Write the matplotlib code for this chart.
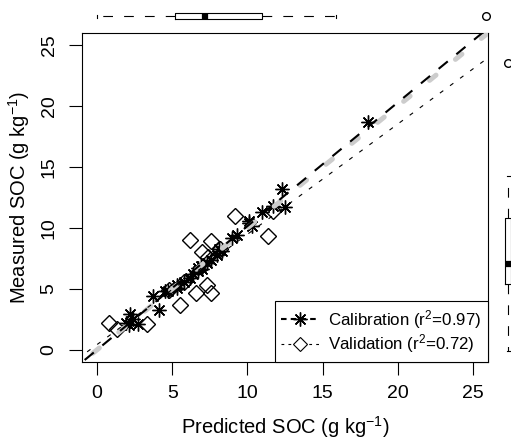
import matplotlib
matplotlib.use("Agg")
from matplotlib import pyplot as plt
from matplotlib.lines import Line2D
import numpy as np

plt.rcParams['font.family'] = ['Liberation Sans', 'DejaVu Sans']
plt.rcParams['mathtext.fontset'] = 'custom'
plt.rcParams['mathtext.rm'] = 'Liberation Sans'
plt.rcParams['mathtext.it'] = 'Liberation Sans'
plt.rcParams['lines.scale_dashes'] = False

# calibration set (predicted, measured)
cal_pred = [1.9, 2.1, 2.2, 2.7, 2.4, 3.7, 4.1, 4.5, 4.7, 5.3, 5.3, 5.8, 6.2, 6.4, 6.7,
            6.7, 6.9, 7.0, 7.3, 7.6, 8.0, 8.3, 8.1, 9.3, 9.0, 10.1, 10.1, 10.3, 11.0,
            11.7, 12.3, 12.5, 18.0]
cal_meas = [2.2, 2.0, 2.95, 2.1, 2.5, 4.4, 3.3, 4.8, 4.85, 5.1, 5.3, 5.6, 5.9, 6.2, 6.5,
            6.7, 6.9, 6.6, 7.1, 7.4, 7.8, 8.1, 8.3, 9.4, 9.2, 10.4, 10.6, 10.2, 11.3,
            11.8, 13.2, 11.7, 18.7]
# validation set
val_pred = [0.8, 1.3, 3.3, 5.5, 6.6, 7.6, 7.3, 6.2, 7.6, 7.0, 7.4, 9.2, 11.4, 11.7, 5.8, 8.2, 4.8]
val_meas = [2.2, 1.7, 2.1, 3.7, 4.7, 4.7, 5.3, 9.0, 8.9, 8.0, 7.6, 11.0, 9.3, 11.4, 5.6, 8.3, 4.9]

# fitted lines (slope, intercept)
cal_fit = (1.015, 0.0)
val_fit = (0.905, 0.43)
cal_label = 'Calibration (r$^2$=0.97)'
val_label = 'Validation (r$^2$=0.72)'

# marginal box plot stats
pred_box = dict(whislo=0.0, q1=5.2, med=7.2, q3=11.0, whishi=15.9, fliers=[25.9])
meas_box = dict(whislo=-0.1, q1=5.4, med=7.07, q3=10.85, whishi=14.3, fliers=[23.5])

W, H = 511, 442
fig = plt.figure(figsize=(W / 100, H / 100), dpi=100)
ax = fig.add_axes([82 / W, (H - 362) / H, 406 / W, 329 / H])

ax.plot(cal_pred, cal_meas, ls='none', marker=(8, 2, 0), ms=10, mew=1.0, color='black', zorder=2)
ax.plot(val_pred, val_meas, ls='none', marker='D', ms=8, mew=1.0, mfc='none', mec='black', zorder=2)

# 1:1 line and the two fitted lines
xx = np.array([-2, 28])
ax.plot(xx, xx, color='#cccccc', lw=3.6, dashes=(6, 18), dash_capstyle='round', zorder=3)
ax.plot(xx, cal_fit[0] * xx + cal_fit[1], color='black', lw=1.5, dashes=(8.5, 8), zorder=4)
ax.plot(xx, val_fit[0] * xx + val_fit[1], color='black', lw=0.8, dashes=(3, 6), zorder=4)

ax.set_xlim(-1, 26)
ax.set_ylim(-1, 26)
ax.set_xticks([0, 5, 10, 15, 20, 25])
ax.set_yticks([0, 5, 10, 15, 20, 25])
ax.tick_params(direction='out', length=9.5, width=0.8, labelsize=14, color='black')
ax.tick_params(axis='x', pad=7)
ax.tick_params(axis='y', pad=8)
for lab in ax.get_yticklabels():
    lab.set_rotation(90)
    lab.set_va('center')
for s in ax.spines.values():
    s.set_linewidth(0.8)
ax.set_xlabel('Predicted SOC (g kg$^{-1}$)', fontsize=14.5, labelpad=9)
ax.set_ylabel('Measured SOC (g kg$^{-1}$)', fontsize=14.5, labelpad=6)

handles = [Line2D([], [], color='black', lw=1.5, dashes=(4, 3), marker=(8, 2, 0), ms=10, mew=1.0),
           Line2D([], [], color='black', lw=0.8, dashes=(2, 3), marker='D', ms=7, mew=0.8, mfc='white')]
leg = ax.legend(handles, [cal_label, val_label], loc='lower right', bbox_to_anchor=(1, 0),
                borderaxespad=0, fancybox=False, edgecolor='black', framealpha=1,
                fontsize=12.2, handlelength=2.2, handletextpad=0.55, labelspacing=0.1,
                borderpad=0.4)
leg.get_frame().set_linewidth(0.8)

box_kw = dict(showfliers=True, widths=0.6, capwidths=0.3, patch_artist=False,
              boxprops=dict(color='black', lw=0.8),
              whiskerprops=dict(color='black', lw=0.8, dashes=(7, 8)),
              capprops=dict(color='black', lw=0.8),
              medianprops=dict(color='black', lw=4.5, solid_capstyle='butt'),
              flierprops=dict(marker='o', ms=5.5, mfc='none', mec='black', mew=1.0))

# top marginal box plot (predicted)
axt = fig.add_axes([82 / W, (H - 26) / H, 406 / W, 20 / H])
bt = axt.bxp([pred_box], positions=[0], orientation='horizontal', **box_kw)
axt.set_xlim(-1, 26)
axt.set_ylim(-1, 1)
axt.axis('off')

# right marginal box plot (measured)
axr = fig.add_axes([498 / W, (H - 362) / H, 20 / W, 329 / H])
br = axr.bxp([meas_box], positions=[0], orientation='vertical', **box_kw)
axr.set_ylim(-1, 26)
axr.set_xlim(-1, 1)
axr.axis('off')

for parts in (bt, br):
    for art in parts['fliers']:
        art.set_clip_on(False)

fig.savefig('out.png', dpi=100)
